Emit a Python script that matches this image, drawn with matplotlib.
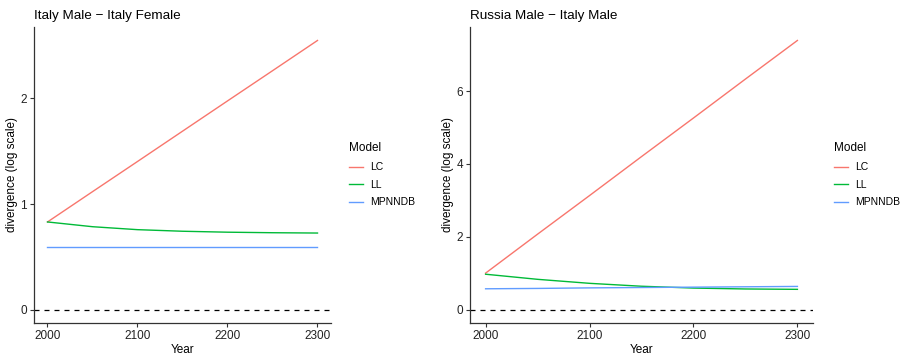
import numpy as np
import matplotlib.pyplot as plt

plt.rcParams['font.family'] = ['Liberation Sans', 'DejaVu Sans']

years = [2000, 2050, 2100, 2150, 2200, 2250, 2300]
models = ['LC', 'LL', 'MPNNDB']
colors = {'LC': '#F8766D', 'LL': '#00BA38', 'MPNNDB': '#619CFF'}

# Italy Male - Italy Female
it_lc = [0.83, 1.117, 1.403, 1.69, 1.977, 2.263, 2.55]
it_ll = [0.83, 0.785, 0.757, 0.742, 0.733, 0.728, 0.725]
it_mp = [0.59, 0.59, 0.59, 0.59, 0.59, 0.59, 0.59]

# Russia Male - Italy Male
ru_lc = [1.0, 2.07, 3.13, 4.2, 5.26, 6.33, 7.39]
ru_ll = [0.97, 0.83, 0.72, 0.64, 0.59, 0.565, 0.555]
ru_mp = [0.57, 0.58, 0.595, 0.605, 0.615, 0.625, 0.635]

panels = [
    ('Italy Male \u2212 Italy Female', {'LC': it_lc, 'LL': it_ll, 'MPNNDB': it_mp}, [0, 1, 2]),
    ('Russia Male \u2212 Italy Male', {'LC': ru_lc, 'LL': ru_ll, 'MPNNDB': ru_mp}, [0, 2, 4, 6]),
]

W, H = 911, 355
fig = plt.figure(figsize=(W / 100, H / 100), dpi=100)

# pixel boxes: left, top, right, bottom
boxes = [(34, 27, 331, 323), (470, 27, 813, 323)]
legend_x = [349, 834]

for (title, data, yticks), (l, t, r, b), lx in zip(panels, boxes, legend_x):
    ax = fig.add_axes([l / W, 1 - b / H, (r - l) / W, (b - t) / H])
    for m in models:
        ax.plot(years, data[m], color=colors[m], lw=1.0, label=m)
    ax.axhline(0, color='black', lw=0.9, ls=(0, (4, 4)))

    ymax = max(max(v) for v in data.values())
    pad = 0.05 * ymax
    ax.set_ylim(-pad, ymax + pad)
    ax.set_xlim(1985, 2315)
    ax.set_xticks([2000, 2100, 2200, 2300])
    ax.set_yticks(yticks)

    for s in ['top', 'right']:
        ax.spines[s].set_visible(False)
    for s in ['left', 'bottom']:
        ax.spines[s].set_color('#333333')
        ax.spines[s].set_linewidth(0.9)
    ax.tick_params(axis='both', length=3, width=0.8, color='#333333',
                   labelsize=8.5, labelcolor='#222222', pad=2)

    ax.set_xlabel('Year', fontsize=8.5, labelpad=1.5)
    ax.set_ylabel('divergence (log scale)', fontsize=8.5, labelpad=2)
    ax.set_title(title, fontsize=9.7, loc='left', pad=6, x=0)

    leg = ax.legend(loc='upper left', bbox_to_anchor=(lx / W, 1 - 142 / H),
                    bbox_transform=fig.transFigure, frameon=False,
                    title='Model', fontsize=7.5, title_fontsize=8.5,
                    handlelength=1.3, handletextpad=0.7, labelspacing=0.72,
                    borderaxespad=0, borderpad=0)
    leg._legend_box.align = 'left'
    leg._legend_box.sep = 6

fig.savefig('out.png', dpi=100)
